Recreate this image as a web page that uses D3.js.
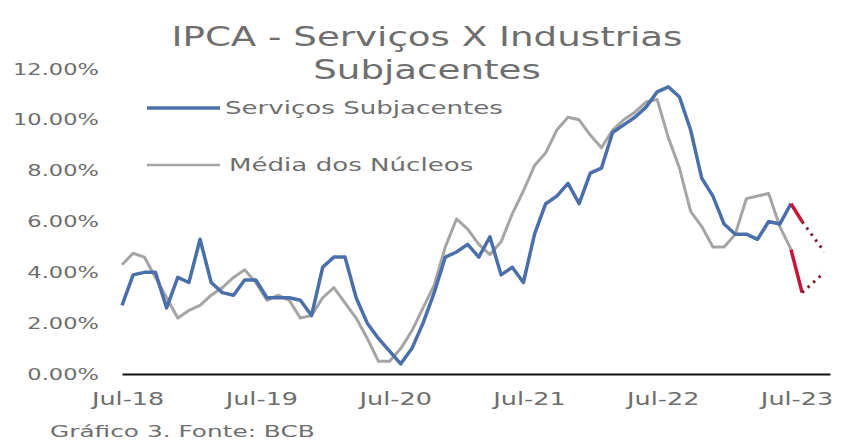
<!DOCTYPE html>
<html>
<head>
<meta charset="utf-8">
<script src="https://cdn.jsdelivr.net/npm/d3@7"></script>
<style>
body { margin: 0; background: #fff; }
text { font-family: "DejaVu Sans", sans-serif; fill: #6e6e6e; }
</style>
</head>
<body>
<div id="plot"></div>
<script>
// monthly values, Jul-18 .. Jul-23
servicos = [2.7, 3.9, 4.0, 4.0, 2.6, 3.8, 3.6, 5.3, 3.6, 3.2, 3.1, 3.7,
  3.7, 3.0, 3.0, 3.0, 2.9, 2.3, 4.2, 4.6, 4.6, 3.0, 2.0, 1.4,
  0.9, 0.4, 1.0, 2.0, 3.2, 4.6, 4.8, 5.1, 4.6, 5.4, 3.9, 4.2,
  3.6, 5.5, 6.7, 7.0, 7.5, 6.7, 7.9, 8.1, 9.5, 9.8, 10.1, 10.5,
  11.1, 11.3, 10.9, 9.6, 7.7, 7.0, 5.9, 5.5, 5.5, 5.3, 6.0, 5.9,
  6.7]
nucleos = [4.3, 4.75, 4.6, 3.8, 3.0, 2.2, 2.5, 2.7, 3.1, 3.4, 3.8, 4.1,
  3.6, 2.9, 3.1, 2.9, 2.2, 2.3, 3.0, 3.4, 2.8, 2.2, 1.4, 0.5,
  0.5, 1.0, 1.7, 2.6, 3.5, 5.0, 6.1, 5.7, 5.1, 4.7, 5.2, 6.3,
  7.2, 8.2, 8.7, 9.6, 10.1, 10.0, 9.4, 8.9, 9.6, 10.0, 10.3, 10.7,
  10.8, 9.3, 8.1, 6.4, 5.8, 5.0, 5.0, 5.5, 6.9, 7.0, 7.1, 5.8,
  4.9]
// projection after the last month: solid then dotted
servicosProj = [6.7, 6.0]
servicosDot = [6.0, 5.4, 4.8]
nucleosProj = [4.9, 3.2]
nucleosDot = [3.2, 3.6, 4.0]

xLabels = ["Jul-18", "Jul-19", "Jul-20", "Jul-21", "Jul-22", "Jul-23"]
yTicks = [0, 2, 4, 6, 8, 10, 12]
legendNames = ["Serviços Subjacentes", "Média dos Núcleos"]

blue = "#4a6fa9"
grey = "#a5a5a5"
red = "#c8143a"
dark = "#7a2035"

svg = d3.select("#plot").append("svg").attr("width", 842).attr("height", 441)

x = d3.scaleLinear().domain([0, 63.5]).range([122, 830])
y = d3.scaleLinear().domain([0, 12]).range([374, 69])

// title
svg.append("text").attr("transform", "translate(427,46) scale(1.43,1)")
  .attr("text-anchor", "middle").style("font-size", "26px").text("IPCA - Serviços X Industrias")
svg.append("text").attr("transform", "translate(427,79) scale(1.43,1)")
  .attr("text-anchor", "middle").style("font-size", "26px").text("Subjacentes")

// y axis labels
ya = svg.append("g").attr("transform", "translate(99,0)")
  .call(d3.axisLeft(y).tickValues(yTicks).tickSize(0).tickPadding(0).tickFormat(d => d.toFixed(2) + "%"))
ya.select(".domain").remove()
ya.selectAll("text").attr("transform", "scale(1.41,1)").style("font-size", "16px").attr("fill", "#747474")

// x axis
xa = svg.append("g").attr("transform", "translate(0," + y(0) + ")")
  .call(d3.axisBottom(x).tickValues(xLabels.map((d, i) => i * 12 + 0.5)).tickSize(0).tickSizeOuter(0).tickPadding(19)
    .tickFormat((d, i) => xLabels[i]))
xa.select(".domain").attr("stroke", "#111").attr("stroke-width", 2.2)
xa.selectAll("text").attr("transform", "scale(1.5,1)").style("font-size", "17px").attr("fill", "#747474")

line = start => d3.line().x((d, i) => x(start + i)).y(d => y(d))

svg.append("path").attr("d", line(0)(nucleos)).attr("fill", "none")
  .attr("stroke", grey).attr("stroke-width", 3).attr("stroke-linejoin", "round")
svg.append("path").attr("d", line(0)(servicos)).attr("fill", "none")
  .attr("stroke", blue).attr("stroke-width", 3.5).attr("stroke-linejoin", "round")

svg.append("path").attr("d", line(60)(servicosProj)).attr("fill", "none").attr("stroke", red).attr("stroke-width", 3.5)
svg.append("path").attr("d", line(60)(nucleosProj)).attr("fill", "none").attr("stroke", red).attr("stroke-width", 3.5)
svg.append("path").attr("d", line(61)(servicosDot)).attr("fill", "none").attr("stroke", dark)
  .attr("stroke-width", 3).attr("stroke-dasharray", "2.5,5")
svg.append("path").attr("d", line(61)(nucleosDot)).attr("fill", "none").attr("stroke", dark)
  .attr("stroke-width", 3).attr("stroke-dasharray", "2.5,5")

// legend
leg = svg.selectAll(".leg").data(legendNames).join("g").attr("class", "leg")
  .attr("transform", (d, i) => "translate(147," + (108 + i * 57) + ")")
leg.append("line").attr("x1", 0).attr("x2", 73)
  .attr("stroke", (d, i) => i == 0 ? blue : grey).attr("stroke-width", (d, i) => i == 0 ? 3.5 : 2.5)
leg.append("text").attr("transform", (d, i) => "translate(" + (i == 0 ? 78 : 82) + ",6) scale(1.45,1)")
  .style("font-size", "18px").text(d => d)

// source
svg.append("text").attr("transform", "translate(50,437) scale(1.55,1)")
  .style("font-size", "16px").attr("fill", "#7a7a7a").text("Gráfico 3. Fonte: BCB")
</script>
</body>
</html>
